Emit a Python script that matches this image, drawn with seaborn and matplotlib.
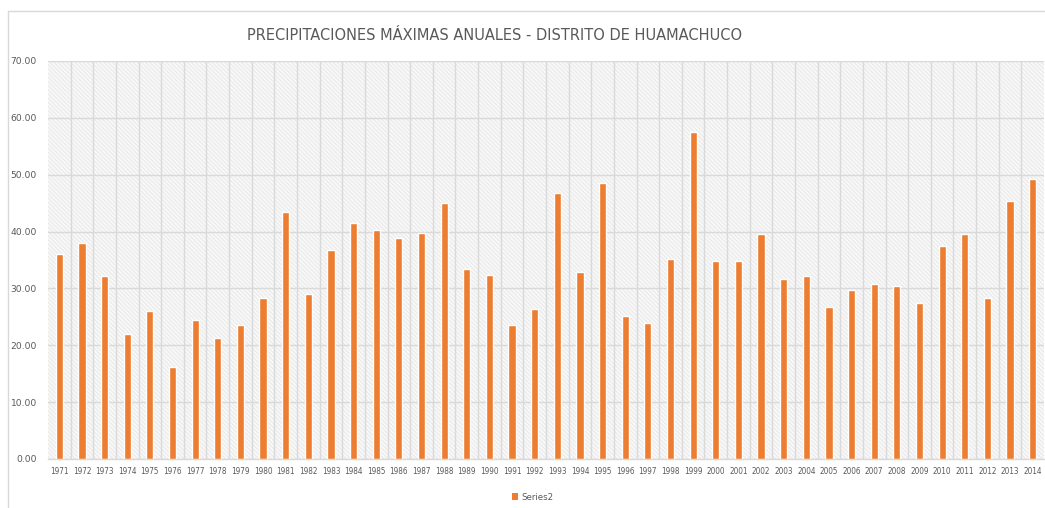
import matplotlib
matplotlib.use("Agg")
import matplotlib.pyplot as plt
from matplotlib.patches import Rectangle, Patch
from matplotlib.lines import Line2D
from matplotlib.ticker import FormatStrFormatter, MultipleLocator, FixedLocator
import seaborn as sns
import pandas as pd

# Annual maximum precipitation, Huamachuco district (mm)
years = [str(y) for y in range(1971, 2015)]
precip_max = [
    36.0, 38.0, 32.1, 22.0, 26.0, 16.2, 24.4, 21.3, 23.5, 28.4,
    43.4, 29.1, 36.8, 41.5, 40.3, 38.8, 39.7, 45.0, 33.5, 32.4,
    23.6, 26.3, 46.8, 32.9, 48.5, 25.1, 23.9, 35.2, 57.6, 34.9,
    34.8, 39.6, 31.6, 32.2, 26.8, 29.8, 30.8, 30.5, 27.5, 37.5,
    39.5, 28.3, 45.3, 49.2,
]
series_name = "Series2"
title = "PRECIPITACIONES MÁXIMAS ANUALES - DISTRITO DE HUAMACHUCO"

sns.set_style("white")
plt.rcParams["font.family"] = ["DejaVu Sans"]
plt.rcParams["hatch.linewidth"] = 0.6

W, H = 1045, 508
fig = plt.figure(figsize=(W / 100, H / 100), dpi=100)
fig.patch.set_facecolor("white")

L, R, B, T = 48, 1044, 459, 61
ax = fig.add_axes([L / W, 1 - B / H, (R - L) / W, (B - T) / H])
ax.set_facecolor("#f8f8f8")

df = pd.DataFrame({"year": years, "value": precip_max})

# hatched plot-area fill
ax.add_patch(Rectangle((0, 0), 1, 1, transform=ax.transAxes, facecolor="none",
                       edgecolor="#e6e6e6", linewidth=0, hatch="\\\\\\\\\\\\\\\\",
                       zorder=0))

sns.barplot(data=df, x="year", y="value", color="#ED7D31", width=0.32,
            saturation=1, ax=ax, label=series_name, zorder=3)

n = len(years)
ax.set_xlim(-0.5, n - 0.5)
ax.set_ylim(0, 70)
ax.yaxis.set_major_locator(MultipleLocator(10))
ax.yaxis.set_major_formatter(FormatStrFormatter("%.2f"))
ax.xaxis.set_minor_locator(FixedLocator([i + 0.5 for i in range(n - 1)]))

ax.grid(axis="y", which="major", color="#d9d9d9", linewidth=1.0, zorder=1)
ax.grid(axis="x", which="minor", color="#d9d9d9", linewidth=1.0, zorder=1)
ax.grid(axis="x", which="major", visible=False)
ax.set_axisbelow(True)

for s in ["top", "right", "left"]:
    ax.spines[s].set_visible(False)
ax.spines["bottom"].set_color("#d9d9d9")
ax.spines["bottom"].set_linewidth(1.0)

ax.tick_params(axis="both", which="both", length=0, colors="#595959")
ax.tick_params(axis="y", labelsize=6.6, pad=8)
ax.tick_params(axis="x", labelsize=5.9, pad=6)
for lab in ax.get_xticklabels():
    lab.set_fontstretch("condensed")
ax.set_xlabel("")
ax.set_ylabel("")

fig.text(495 / W, 1 - 36 / H, title, ha="center", va="center", fontsize=11.7,
         color="#595959", fontstretch="condensed")

# legend below the axis
leg = ax.legend(handles=[Patch(facecolor="#ED7D31", edgecolor="none")],
                labels=[series_name], loc="center",
                bbox_to_anchor=(533 / W, 1 - 497 / H),
                bbox_transform=fig.transFigure, frameon=False,
                fontsize=6.2, handlelength=0.7, handleheight=0.7,
                handletextpad=0.4, labelcolor="#595959")

# chart border
fig.add_artist(Line2D([8 / W, 8 / W], [0, 1 - 11 / H], transform=fig.transFigure,
                      color="#d9d9d9", linewidth=1.0))
fig.add_artist(Line2D([8 / W, 1], [1 - 11 / H, 1 - 11 / H], transform=fig.transFigure,
                      color="#d9d9d9", linewidth=1.0))

fig.savefig("out.png", dpi=100, facecolor="white")
